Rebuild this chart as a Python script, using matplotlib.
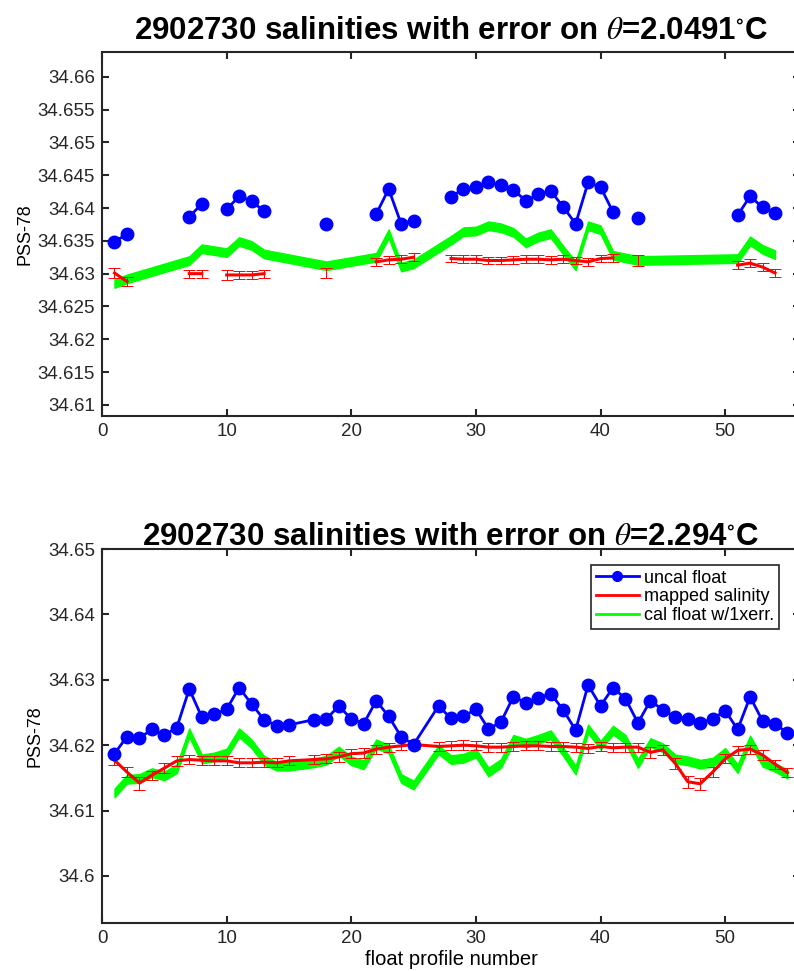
import numpy as np
import matplotlib
matplotlib.use("Agg")
import matplotlib.pyplot as plt
from matplotlib.lines import Line2D

plt.rcParams["font.family"] = ["Liberation Sans", "DejaVu Sans"]
plt.rcParams["mathtext.fontset"] = "stix"

nan = np.nan
FLOAT_ID = "2902730"

# ---- level 1: theta = 2.0491 C (profiles 1..54, nan = no data on this level)
top_theta = "2.0491"
top_profiles = list(range(1, 55))
top_uncal = [34.6349, 34.6360, nan, nan, nan, nan, 34.6387, 34.6406, nan, 34.6398,
             34.6418, 34.6411, 34.6395, nan, nan, nan, nan, 34.6376, nan, nan,
             nan, 34.6391, 34.6429, 34.6376, 34.6381, nan, nan, 34.6417, 34.6429, 34.6432,
             34.6439, 34.6435, 34.6428, 34.6411, 34.6421, 34.6426, 34.6402, 34.6376, 34.6439, 34.6432,
             34.6394, nan, 34.6385, nan, nan, nan, nan, nan, nan, nan,
             34.6389, 34.6418, 34.6401, 34.6393]
top_mapped = [34.6301, 34.6288, nan, nan, nan, nan, 34.6300, 34.6300, nan, 34.6298,
              34.6298, 34.6298, 34.6300, nan, nan, nan, nan, 34.6301, nan, nan,
              nan, 34.6318, 34.6321, 34.6322, 34.6325, nan, nan, 34.6323, 34.6322, 34.6322,
              34.6320, 34.6320, 34.6321, 34.6322, 34.6322, 34.6321, 34.6322, 34.6320, 34.6318, 34.6323,
              34.6324, nan, 34.6320, nan, nan, nan, nan, nan, nan, nan,
              34.6313, 34.6316, 34.6310, 34.6301]
top_mapped_err = [0.0007, 0.0007, nan, nan, nan, nan, 0.0006, 0.0006, nan, 0.0007,
                  0.0006, 0.0006, 0.0006, nan, nan, nan, nan, 0.0007, nan, nan,
                  nan, 0.0006, 0.0006, 0.0006, 0.0006, nan, nan, 0.0006, 0.0006, 0.0006,
                  0.0006, 0.0006, 0.0006, 0.0006, 0.0006, 0.0006, 0.0006, 0.0006, 0.0006, 0.0006,
                  0.0006, nan, 0.0008, nan, nan, nan, nan, nan, nan, nan,
                  0.0006, 0.0006, 0.0006, 0.0006]
top_cal = [34.6285, 34.6292, nan, nan, nan, nan, 34.6320, 34.6338, nan, 34.6332,
           34.6349, 34.6343, 34.6330, nan, nan, nan, nan, 34.6312, nan, nan,
           nan, 34.6325, 34.6361, 34.6310, 34.6315, nan, nan, 34.6351, 34.6364, 34.6365,
           34.6373, 34.6370, 34.6363, 34.6347, 34.6356, 34.6361, 34.6336, 34.6312, 34.6373, 34.6367,
           34.6328, nan, 34.6320, nan, nan, nan, nan, nan, nan, nan,
           34.6323, 34.6350, 34.6337, 34.6329]
top_cal_err = 0.00065

# ---- level 2: theta = 2.294 C (profiles 16 and 26 missing)
bot_theta = "2.294"
bot_profiles = [1, 2, 3, 4, 5, 6, 7, 8, 9, 10, 11, 12, 13, 14, 15, 17, 18, 19, 20, 21,
                22, 23, 24, 25, 27, 28, 29, 30, 31, 32, 33, 34, 35, 36, 37, 38, 39, 40, 41, 42,
                43, 44, 45, 46, 47, 48, 49, 50, 51, 52, 53, 54, 55]
bot_uncal = [34.6187, 34.6213, 34.6211, 34.6224, 34.6215, 34.6227, 34.6286, 34.6243, 34.6247, 34.6255,
             34.6288, 34.6263, 34.6239, 34.6230, 34.6231, 34.6239, 34.6240, 34.6260, 34.6240, 34.6233,
             34.6268, 34.6244, 34.6213, 34.6201, 34.6260, 34.6241, 34.6244, 34.6255, 34.6225, 34.6235,
             34.6274, 34.6265, 34.6272, 34.6279, 34.6254, 34.6223, 34.6292, 34.6260, 34.6288, 34.6271,
             34.6234, 34.6268, 34.6254, 34.6243, 34.6240, 34.6234, 34.6240, 34.6253, 34.6224, 34.6274,
             34.6237, 34.6232, 34.6219]
bot_mapped = [34.6177, 34.6159, 34.6142, 34.6154, 34.6165, 34.6176, 34.6178, 34.6177, 34.6176, 34.6176,
              34.6173, 34.6173, 34.6174, 34.6173, 34.6176, 34.6178, 34.6179, 34.6182, 34.6187, 34.6188,
              34.6194, 34.6197, 34.6199, 34.6201, 34.6198, 34.6199, 34.6200, 34.6199, 34.6197, 34.6197,
              34.6198, 34.6199, 34.6199, 34.6198, 34.6198, 34.6197, 34.6195, 34.6198, 34.6196, 34.6197,
              34.6197, 34.6189, 34.6193, 34.6172, 34.6144, 34.6141, 34.6159, 34.6179, 34.6192, 34.6194,
              34.6185, 34.6171, 34.6158]
bot_mapped_err = [0.0007, 0.0008, 0.0010, 0.0007, 0.0007, 0.0008, 0.0007, 0.0007, 0.0007, 0.0007,
                  0.0007, 0.0007, 0.0007, 0.0007, 0.0007, 0.0007, 0.0007, 0.0007, 0.0007, 0.0007,
                  0.0007, 0.0007, 0.0007, 0.0007, 0.0007, 0.0007, 0.0008, 0.0007, 0.0007, 0.0007,
                  0.0007, 0.0007, 0.0007, 0.0007, 0.0007, 0.0007, 0.0007, 0.0007, 0.0007, 0.0007,
                  0.0007, 0.0008, 0.0008, 0.0009, 0.0009, 0.0009, 0.0008, 0.0007, 0.0007, 0.0007,
                  0.0007, 0.0007, 0.0007]
bot_cal = [34.6127, 34.6148, 34.6149, 34.6158, 34.6153, 34.6164, 34.6219, 34.6179, 34.6182, 34.6188,
           34.6219, 34.6202, 34.6177, 34.6168, 34.6168, 34.6173, 34.6177, 34.6191, 34.6176, 34.6170,
           34.6202, 34.6194, 34.6149, 34.6139, 34.6193, 34.6178, 34.6180, 34.6188, 34.6159, 34.6172,
           34.6209, 34.6203, 34.6209, 34.6216, 34.6190, 34.6162, 34.6225, 34.6200, 34.6223, 34.6209,
           34.6172, 34.6204, 34.6196, 34.6179, 34.6176, 34.6171, 34.6174, 34.6189, 34.6164, 34.6208,
           34.6174, 34.6166, 34.6156]
bot_cal_err = 0.00066

GREEN = "#00ff00"
DARK = "#262626"


def draw_level(ax, prof, uncal, mapped, mapped_err, cal, cal_err, theta, title_pad):
    prof = np.asarray(prof, float)
    cal = np.asarray(cal, float)
    ok = ~np.isnan(cal)
    # calibrated float +/- error as a filled band
    ax.fill_between(prof[ok], cal[ok] - cal_err, cal[ok] + cal_err,
                    facecolor=GREEN, edgecolor=GREEN, linewidth=1.0, zorder=1)
    ax.errorbar(prof, mapped, yerr=mapped_err, color="red", linewidth=2.2,
                ecolor="red", elinewidth=0.7, capsize=4.5, capthick=0.7, zorder=2)
    ax.plot(prof, uncal, "-o", color="blue", linewidth=2.0, markersize=9, zorder=3)

    ax.set_xlim(0, 56)
    ax.set_xticks([0, 10, 20, 30, 40, 50])
    ax.set_ylabel("PSS-78", fontsize=13, labelpad=3)
    ax.set_title(FLOAT_ID + r" salinities with error on $\theta$=" + theta + r"$^{\circ}$C",
                 fontsize=22.5, fontweight="bold", pad=title_pad)
    for s in ax.spines.values():
        s.set_linewidth(1.5)
        s.set_color(DARK)
    ax.tick_params(direction="in", length=5, width=1.5, top=True, right=True,
                   labelsize=13.5, colors=DARK, pad=5)


fig = plt.figure(figsize=(7.94, 9.71), dpi=100)
ax1 = fig.add_axes([0.1285, 0.5716, 0.879, 0.3749])
ax2 = fig.add_axes([0.1285, 0.0494, 0.879, 0.3852])

draw_level(ax1, top_profiles, top_uncal, top_mapped, top_mapped_err, top_cal, top_cal_err,
           top_theta, 9)
ax1.set_ylim(34.6083, 34.6638)
top_ticks = np.round(np.arange(34.61, 34.6601, 0.005), 3)
ax1.set_yticks(top_ticks)
ax1.set_yticklabels([f"{v:g}" for v in top_ticks])

draw_level(ax2, bot_profiles, bot_uncal, bot_mapped, bot_mapped_err, bot_cal, bot_cal_err,
           bot_theta, 3)
ax2.set_ylim(34.5928, 34.65)
bot_ticks = np.round(np.arange(34.60, 34.6501, 0.01), 2)
ax2.set_yticks(bot_ticks)
ax2.set_yticklabels([f"{v:g}" for v in bot_ticks])
ax2.set_xlabel("float profile number", fontsize=14.5, labelpad=2)

handles = [Line2D([], [], color="blue", marker="o", markersize=7, linewidth=2),
           Line2D([], [], color="red", linewidth=2),
           Line2D([], [], color=GREEN, linewidth=2)]
leg = ax2.legend(handles, ["uncal float", "mapped salinity", "cal float w/1xerr."],
                 loc="upper right", bbox_to_anchor=(0.970, 0.957), borderaxespad=0,
                 fontsize=13, fancybox=False, framealpha=1, handlelength=2.4,
                 handletextpad=0.3, labelspacing=0.1, borderpad=0.25)
leg.get_frame().set_edgecolor(DARK)
leg.get_frame().set_linewidth(1.2)

fig.savefig("out.png", dpi=100)
